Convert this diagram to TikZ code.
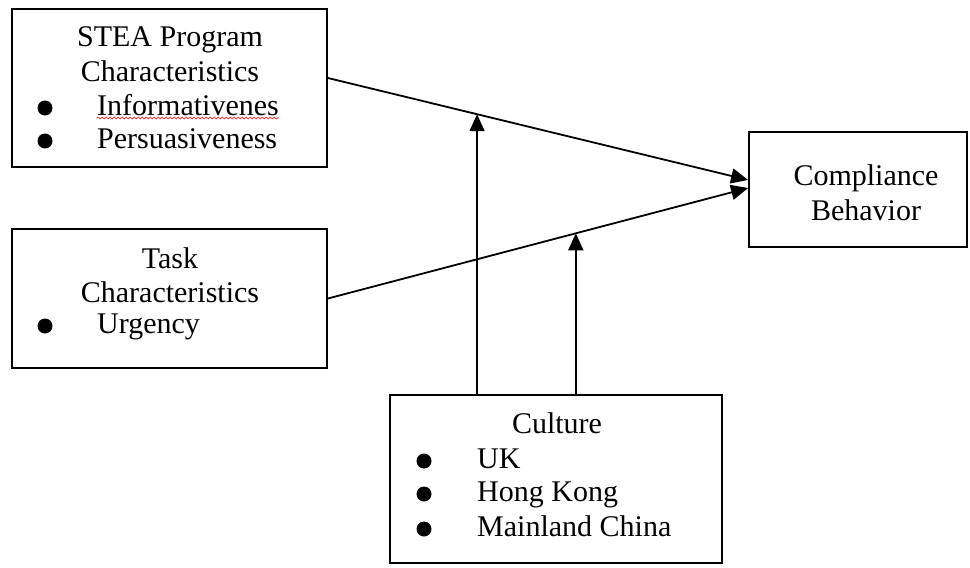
\documentclass[tikz,border=0pt]{standalone}
\usepackage{fontspec}
\setmainfont{Liberation Serif}
\usetikzlibrary{arrows.meta,decorations.pathmorphing}

\begin{document}
\begin{tikzpicture}[x=1pt,y=-1pt,
  box/.style={draw,line width=1.8pt,inner sep=0pt},
  txt/.style={inner sep=0pt,anchor=base,font=\fontsize{30}{34}\selectfont},
  item/.style={txt,anchor=base west},
  dot/.style={circle,fill=black,inner sep=0pt,minimum size=15pt},
  arr/.style={line width=1.8pt,-{Triangle[length=17pt,width=15pt]}}]
\useasboundingbox (0,0) rectangle (970,568);
% boxes
\node[box,minimum width=315pt,minimum height=158pt] (stea) at (169.5,88) {};
\node[box,minimum width=315pt,minimum height=139pt] (task) at (169.5,298.5) {};
\node[box,minimum width=332pt,minimum height=168pt] (cult) at (556,479) {};
\node[box,minimum width=218pt,minimum height=115pt] (comp) at (858,189.5) {};
% texts
\node[txt] (s1) at (170,46) {STEA Program};
\node[txt] (s2) at (170,81) {Characteristics};
\node[dot] (sd1) at (45,108) {};
\node[item] (s3) at (97,115) {Informativenes};
\node[dot] (sd2) at (45,141) {};
\node[item] (s4) at (97,148) {Persuasiveness};
\draw[red,line width=0.6pt,decorate,decoration={snake,amplitude=1pt,segment length=4pt}]
  ([yshift=-3pt]s3.base west) -- ([yshift=-3pt]s3.base east);
\node[txt] (t1) at (170,268) {Task};
\node[txt] (t2) at (170,302) {Characteristics};
\node[dot] (td1) at (45,326) {};
\node[item] (t3) at (97,333) {Urgency};
\node[txt] (c1) at (557,433) {Culture};
\node[dot] (cd1) at (424,461) {};
\node[item] (c2) at (477,468) {UK};
\node[dot] (cd2) at (424,494) {};
\node[item] (c3) at (477,501) {Hong Kong};
\node[dot] (cd3) at (424,529) {};
\node[item] (c4) at (477,536) {Mainland China};
\node[txt] (b1) at (866,185) {Compliance};
\node[txt] (b2) at (866,220) {Behavior};
% connectors
\draw[arr] ([yshift=10pt]stea.east) -- coordinate[pos=0.355] (m1) ([yshift=9.5pt]comp.west);
\draw[arr] (task.east) -- coordinate[pos=0.59] (m2) ([yshift=1.5pt]comp.west);
\draw[arr] (cult.north -| m1) -- (m1);
\draw[arr] (cult.north -| m2) -- (m2);
\end{tikzpicture}
\end{document}
